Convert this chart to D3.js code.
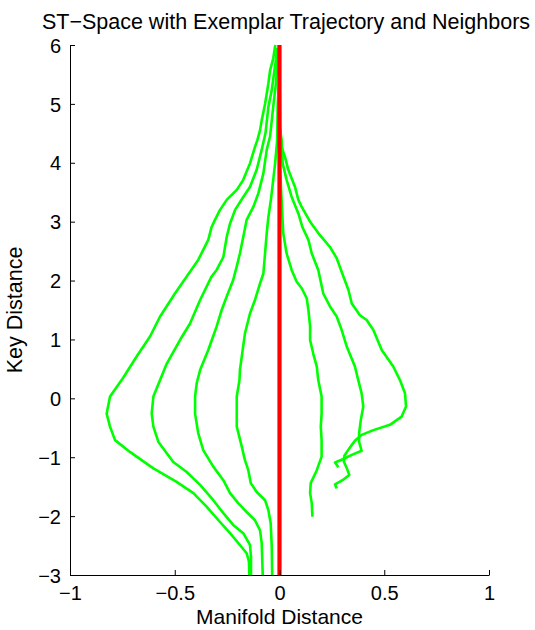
<!DOCTYPE html>
<html>
<head>
<meta charset="utf-8">
<script src="https://cdn.jsdelivr.net/npm/d3@7"></script>
<style>
html,body{margin:0;padding:0;background:#fff;}
svg{display:block;}
text{font-family:"Liberation Sans",Arial,Helvetica,sans-serif;fill:#000;}
</style>
</head>
<body>
<svg id="chart" width="535" height="630"></svg>
<script>
// ---- data (x = manifold distance, y = key distance) ----
const xTicks = [-1, -0.5, 0, 0.5, 1];
const xTickLabels = ["\u22121", "\u22120.5", "0", "0.5", "1"];
const yTicks = [-3, -2, -1, 0, 1, 2, 3, 4, 5, 6];
const yTickLabels = ["\u22123", "\u22122", "\u22121", "0", "1", "2", "3", "4", "5", "6"];

const exemplar = [[0, -3], [0, 6]];

const neighborA = [[-0.02,6.0],[-0.030,5.77],[-0.045,5.57],[-0.053,5.35],[-0.069,5.0],[-0.085,4.72],[-0.093,4.55],[-0.106,4.38],[-0.117,4.27],[-0.141,3.99],[-0.173,3.71],[-0.204,3.54],[-0.252,3.37],[-0.284,3.20],[-0.308,3.03],[-0.325,2.90],[-0.340,2.69],[-0.364,2.52],[-0.388,2.35],[-0.443,2.07],[-0.499,1.78],[-0.570,1.39],[-0.618,1.05],[-0.682,0.71],[-0.746,0.35],[-0.809,0.03],[-0.825,-0.26],[-0.809,-0.48],[-0.785,-0.71],[-0.714,-0.91],[-0.602,-1.19],[-0.491,-1.42],[-0.411,-1.61],[-0.348,-1.84],[-0.284,-2.10],[-0.236,-2.29],[-0.189,-2.49],[-0.157,-2.63],[-0.146,-2.77],[-0.144,-3.0]];
const neighborB = [[-0.012,5.95],[-0.017,5.75],[-0.026,5.52],[-0.037,5.23],[-0.053,4.95],[-0.067,4.5],[-0.085,4.22],[-0.109,3.88],[-0.141,3.59],[-0.173,3.42],[-0.212,3.20],[-0.236,2.97],[-0.252,2.74],[-0.268,2.40],[-0.300,2.18],[-0.324,2.07],[-0.379,1.67],[-0.427,1.27],[-0.475,0.99],[-0.538,0.59],[-0.570,0.31],[-0.602,0.03],[-0.610,-0.26],[-0.602,-0.48],[-0.578,-0.74],[-0.507,-1.08],[-0.443,-1.25],[-0.379,-1.47],[-0.316,-1.73],[-0.268,-1.95],[-0.221,-2.15],[-0.173,-2.29],[-0.141,-2.49],[-0.136,-2.69],[-0.136,-3.0]];
const neighborC = [[-0.006,5.91],[-0.017,5.35],[-0.030,4.95],[-0.045,4.45],[-0.061,4.22],[-0.077,3.82],[-0.101,3.48],[-0.125,3.25],[-0.157,3.03],[-0.173,2.74],[-0.189,2.46],[-0.204,2.24],[-0.221,2.01],[-0.252,1.73],[-0.276,1.50],[-0.300,1.22],[-0.340,0.82],[-0.379,0.48],[-0.395,0.26],[-0.403,0.03],[-0.403,-0.26],[-0.388,-0.59],[-0.364,-0.88],[-0.316,-1.16],[-0.268,-1.39],[-0.236,-1.61],[-0.197,-1.78],[-0.157,-1.93],[-0.117,-2.07],[-0.093,-2.24],[-0.085,-2.46],[-0.080,-3.0]];
const neighborD = [[-0.003,6.0],[0.0,5.52],[-0.009,4.95],[-0.011,4.39],[-0.021,3.99],[-0.040,3.40],[-0.053,3.08],[-0.061,2.80],[-0.077,2.12],[-0.093,1.95],[-0.117,1.67],[-0.141,1.44],[-0.165,1.10],[-0.180,0.71],[-0.189,0.48],[-0.191,0.31],[-0.204,0.03],[-0.204,-0.48],[-0.180,-0.82],[-0.165,-1.05],[-0.149,-1.22],[-0.137,-1.44],[-0.109,-1.59],[-0.069,-1.73],[-0.053,-1.90],[-0.042,-2.12],[-0.037,-2.52],[-0.035,-3.0]];
const neighborE = [[0.0,6.0],[0.002,4.0],[0.010,3.37],[0.018,2.80],[0.034,2.46],[0.058,2.18],[0.082,1.98],[0.106,1.87],[0.130,1.70],[0.138,1.50],[0.146,1.22],[0.146,0.99],[0.161,0.76],[0.178,0.54],[0.185,0.31],[0.201,0.03],[0.201,-0.26],[0.197,-0.48],[0.201,-0.71],[0.201,-0.99],[0.178,-1.22],[0.149,-1.44],[0.146,-1.61],[0.154,-1.78],[0.157,-2.01]];
const neighborF = [[0.0,6.0],[0.002,4.6],[0.010,4.39],[0.015,3.99],[0.034,3.71],[0.058,3.42],[0.090,3.14],[0.110,2.90],[0.138,2.69],[0.154,2.46],[0.185,2.18],[0.209,1.78],[0.241,1.56],[0.273,1.39],[0.297,1.16],[0.321,0.88],[0.360,0.54],[0.376,0.31],[0.392,0.085],[0.400,-0.14],[0.388,-0.37],[0.380,-0.59],[0.380,-0.74],[0.392,-0.89],[0.345,-0.96],[0.305,-1.03],[0.265,-1.09],[0.281,-1.17]];
const neighborG = [[0.0,6.0],[0.002,4.61],[0.010,4.27],[0.026,4.10],[0.042,3.88],[0.074,3.59],[0.090,3.37],[0.106,3.25],[0.146,3.0],[0.193,2.77],[0.241,2.57],[0.273,2.38],[0.305,2.07],[0.329,1.84],[0.345,1.61],[0.384,1.41],[0.416,1.33],[0.448,1.16],[0.488,0.82],[0.543,0.54],[0.575,0.31],[0.599,0.085],[0.604,-0.14],[0.583,-0.31],[0.527,-0.45],[0.448,-0.54],[0.392,-0.62],[0.360,-0.72],[0.333,-0.85],[0.309,-0.98],[0.308,-1.08],[0.324,-1.21],[0.333,-1.30],[0.305,-1.38],[0.265,-1.46],[0.273,-1.53]];
const neighbors = [neighborA, neighborB, neighborC, neighborD, neighborE, neighborF, neighborG];

const titleText = "ST\u2212Space with Exemplar Trajectory and Neighbors";
const xLabelText = "Manifold Distance";
const yLabelText = "Key Distance";

// ---- layout ----
const svg = d3.select("#chart");
const mLeft = 70, mRight = 489, mTop = 45, mBottom = 575;

const x = d3.scaleLinear().domain([-1, 1]).range([mLeft, mRight]);
const y = d3.scaleLinear().domain([-3, 6]).range([mBottom, mTop]);

const line = d3.line().x(d => x(d[0])).y(d => y(d[1]));

// neighbors
svg.append("g").selectAll("path").data(neighbors).join("path")
  .attr("d", line)
  .attr("fill", "none")
  .attr("stroke", "#00ff00")
  .attr("stroke-width", 2.6)
  .attr("stroke-linejoin", "round");

// exemplar
svg.append("path").datum(exemplar)
  .attr("d", line)
  .attr("fill", "none")
  .attr("stroke", "#ff0000")
  .attr("stroke-width", 4.2);

// axes
const xAxis = d3.axisBottom(x).tickValues(xTicks)
  .tickFormat((d, i) => xTickLabels[i]).tickSizeInner(-5).tickSizeOuter(0).tickPadding(8);
const yAxis = d3.axisLeft(y).tickValues(yTicks)
  .tickFormat((d, i) => yTickLabels[i]).tickSizeInner(-5).tickSizeOuter(0).tickPadding(9);

const gx = svg.append("g").attr("transform", `translate(0,${mBottom})`).call(xAxis);
const gy = svg.append("g").attr("transform", `translate(${mLeft},0)`).call(yAxis);
[gx, gy].forEach(g => {
  g.select(".domain").attr("stroke", "#000").attr("stroke-width", 1);
  g.selectAll(".tick line").attr("stroke", "#000").attr("stroke-width", 1);
  g.selectAll(".tick text").attr("font-size", 20)
    .attr("font-family", "'Liberation Sans',Arial,Helvetica,sans-serif").attr("fill", "#000");
});
gx.selectAll(".tick text").attr("dy", "0.85em");
gy.selectAll(".tick text").attr("dy", "0.36em");

// title and labels
svg.append("text").attr("x", 286).attr("y", 29).attr("text-anchor", "middle")
  .attr("font-size", 21.5).text(titleText);
svg.append("text").attr("x", x(0)).attr("y", 624).attr("text-anchor", "middle")
  .attr("font-size", 21).text(xLabelText);
svg.append("text").attr("transform", `translate(22,${(mTop + mBottom) / 2}) rotate(-90)`)
  .attr("text-anchor", "middle").attr("font-size", 21.5).text(yLabelText);
</script>
</body>
</html>
